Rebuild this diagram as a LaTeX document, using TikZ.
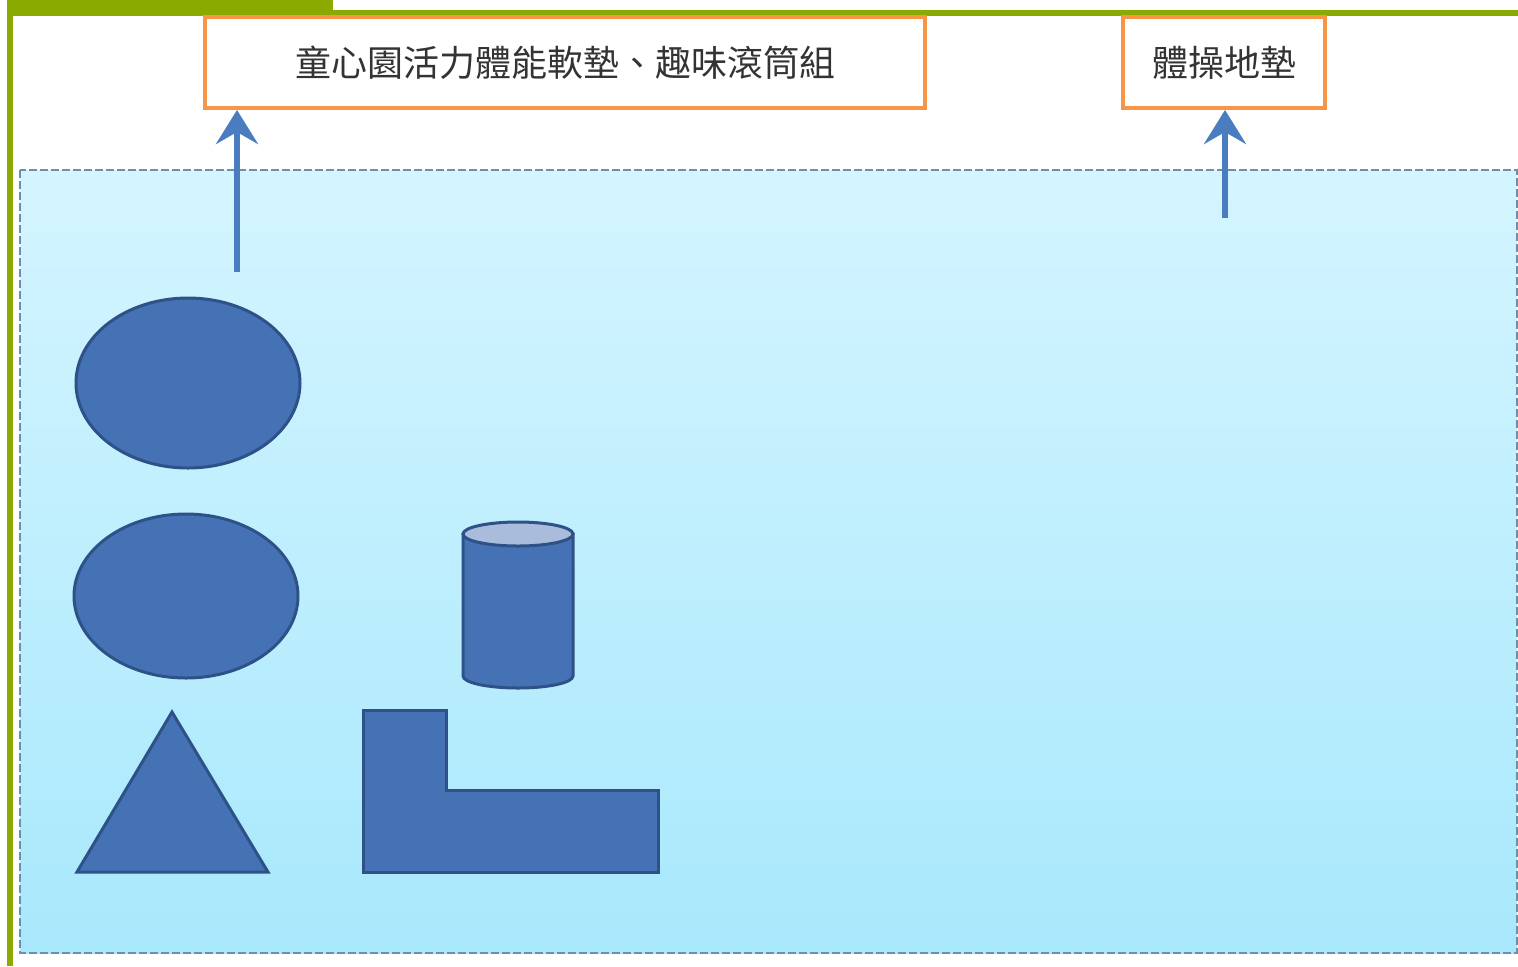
\documentclass[tikz,border=0pt]{standalone}
\usepackage{fontspec}
\newfontfamily\cjk{Noto Sans CJK TC}
\usetikzlibrary{arrows.meta}
\definecolor{frame}{HTML}{8AAA00}
\definecolor{orng}{HTML}{F79646}
\definecolor{shp}{HTML}{4472B4}
\definecolor{shpline}{HTML}{2E5288}
\definecolor{cap}{HTML}{A9BCDC}
\definecolor{arr}{HTML}{4A7CC0}
\definecolor{bgtop}{HTML}{D4F5FF}
\definecolor{bgbot}{HTML}{A8E8FC}
\definecolor{bgline}{HTML}{6F8FA8}
\tikzset{
  labelbox/.style={draw=orng, line width=2pt, fill=white, inner sep=0pt,
    font=\cjk\fontsize{18pt}{20pt}\selectfont, text=black!80},
  upArrow/.style={draw=arr, line width=3pt, -{Stealth[length=17pt,width=21pt,inset=6pt]}},
  solid shape/.style={fill=shp, draw=shpline, line width=1.5pt},
}
\begin{document}
\begin{tikzpicture}[x=0.5pt,y=-0.5pt]
\useasboundingbox (0,0) rectangle (1518,966);
\fill[white] (0,0) rectangle (1518,966);
% green frame
\fill[frame] (7,0) rectangle (333,16);
\fill[frame] (7,10) rectangle (1518,16);
\fill[frame] (7,0) rectangle (13,966);
% light blue panel
\shade[top color=bgtop, bottom color=bgbot] (20,170) rectangle (1517,953);
\draw[bgline, line width=1pt, dash pattern=on 4pt off 1.5pt] (20,170) rectangle (1517,953);
% label boxes
\node[labelbox, minimum width=360pt, minimum height=45.5pt] (b1) at (565,62.5) {童心園活力體能軟墊、趣味滾筒組};
\node[labelbox, minimum width=101pt, minimum height=45.5pt] (b2) at (1224,62.5) {體操地墊};
% arrows
\coordinate (a1) at (237,272);
\coordinate (a2) at (1225,218);
\draw[upArrow] (a1) -- (a1 |- b1.south);
\draw[upArrow] (a2) -- (a2 |- b2.south);
% shapes
\draw[solid shape] (188,383) ellipse [x radius=112, y radius=85];
\draw[solid shape] (186,596) ellipse [x radius=112, y radius=82];
\draw[solid shape] (172,712) -- (268,872) -- (77,872) -- cycle;
\draw[solid shape] (363,710) -- (446,710) -- (446,790) -- (658,790) -- (658,872) -- (363,872) -- cycle;
% cylinder
\draw[solid shape] (463,534) -- (463,676) arc[start angle=180, end angle=0, x radius=55, y radius=12] -- (573,534) -- cycle;
\draw[fill=cap, draw=shpline, line width=1.5pt] (518,534) ellipse [x radius=55, y radius=12];
\end{tikzpicture}
\end{document}
